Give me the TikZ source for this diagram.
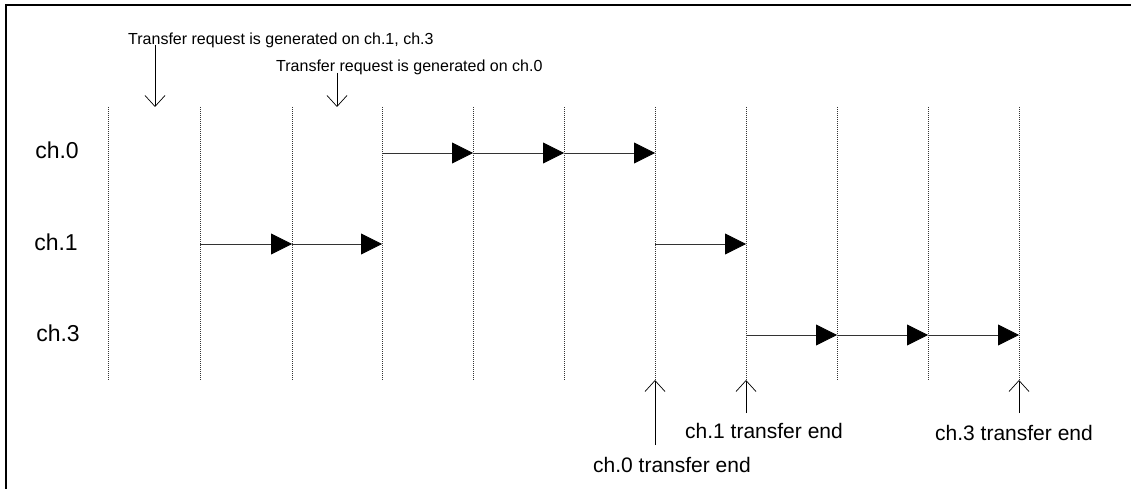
\documentclass[tikz,border=0pt]{standalone}
\usepackage{fontspec}
\setmainfont{Liberation Sans}
\usetikzlibrary{arrows.meta}
\begin{document}
\begin{tikzpicture}[x=1pt,y=-1pt,
  gridline/.style={draw=black!80, line width=0.7pt, dash pattern=on 1pt off 1pt},
  flow/.style={draw=black!80, line width=0.8pt, -{Triangle[length=21pt,width=21pt,color=black]}},
  marker/.style={draw=black, line width=0.7pt, -{Straight Barb[length=11pt,width=20pt,line width=0.7pt]}},
  smalltext/.style={font=\fontsize{16}{18}\selectfont, inner sep=0pt},
  endtext/.style={font=\fontsize{21}{24}\selectfont, inner sep=0pt},
  chantext/.style={font=\fontsize{23}{26}\selectfont, inner sep=0pt}]
\useasboundingbox (0,0) rectangle (1131,489);
% frame
\draw[line width=2.4pt] (6,489) -- (6,5) -- (1131,5);
% time grid
\foreach \i/\x in {1/108,2/200,3/292,4/382,5/473,6/564,7/655,8/746,9/837,10/928,11/1019}{
  \coordinate (t\i) at (\x,107);
  \coordinate (b\i) at (\x,380);
  \draw[gridline] (t\i) -- (b\i);
}
% rows
\coordinate (r0) at (0,153);
\coordinate (r1) at (0,244);
\coordinate (r3) at (0,335);
\node[chantext] (l0) at (57,150) {ch.0};
\node[chantext] (l1) at (56,242) {ch.1};
\node[chantext] (l3) at (58,333) {ch.3};
% ch.0 transfers
\draw[flow] (t4|-r0) -- (t5|-r0);
\draw[flow] (t5|-r0) -- (t6|-r0);
\draw[flow] (t6|-r0) -- (t7|-r0);
% ch.1 transfers
\draw[flow] (t2|-r1) -- (t3|-r1);
\draw[flow] (t3|-r1) -- (t4|-r1);
\draw[flow] (t7|-r1) -- (t8|-r1);
% ch.3 transfers
\draw[flow] (t8|-r3) -- (t9|-r3);
\draw[flow] (t9|-r3) -- (t10|-r3);
\draw[flow] (t10|-r3) -- (t11|-r3);
% requests
\node[smalltext, anchor=west] (req13) at (128,40) {Transfer request is generated on ch.1, ch.3};
\node[smalltext, anchor=west] (req0) at (276,67) {Transfer request is generated on ch.0};
\coordinate (q1s) at (155,45);
\coordinate (q1e) at (155,107);
\coordinate (q0s) at (337,73);
\coordinate (q0e) at (337,107);
\draw[marker] (q1s) -- (q1e);
\draw[marker] (q0s) -- (q0e);
% transfer ends
\coordinate (e0) at (655,445);
\coordinate (e1) at (746,413);
\coordinate (e3) at (1019,413);
\draw[marker] (e0) -- (b7);
\draw[marker] (e1) -- (b8);
\draw[marker] (e3) -- (b11);
\node[endtext] (end0) at (672,465) {ch.0 transfer end};
\node[endtext] (end1) at (764,431) {ch.1 transfer end};
\node[endtext] (end3) at (1014,433) {ch.3 transfer end};
\end{tikzpicture}
\end{document}
